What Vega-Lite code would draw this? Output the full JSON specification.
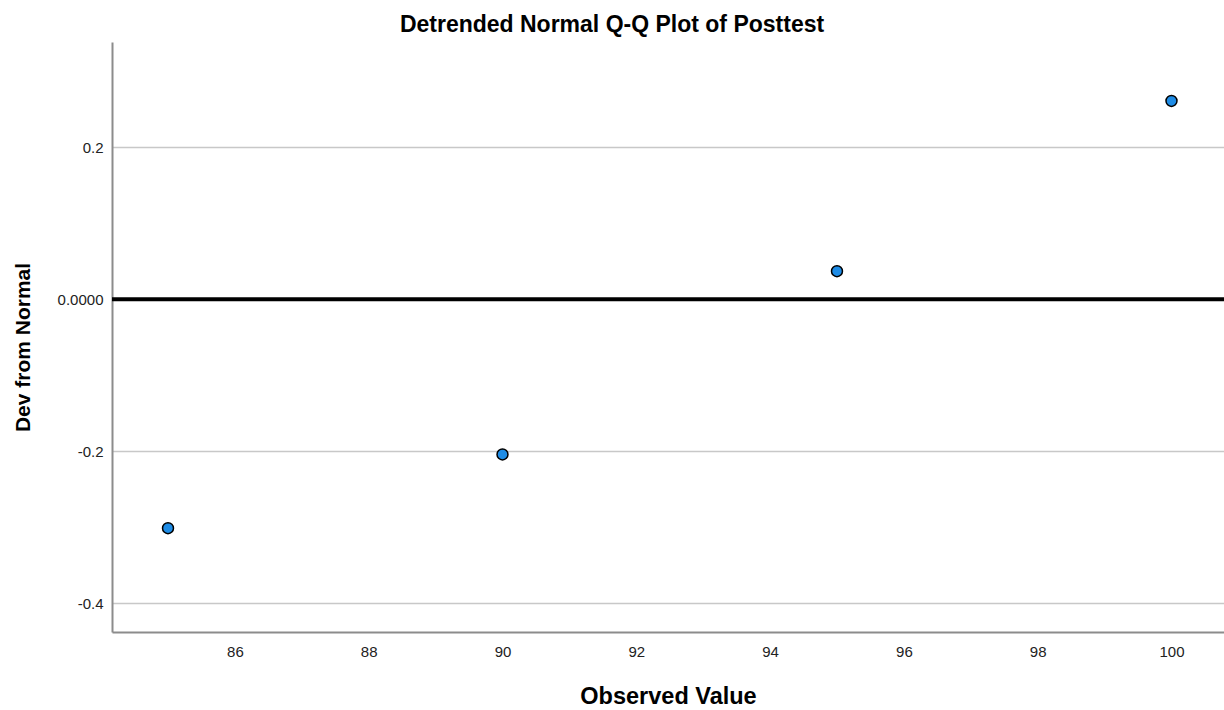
{
  "$schema": "https://vega.github.io/schema/vega-lite/v6.json",
  "width": 1112,
  "height": 590,
  "autosize": "none",
  "padding": {"left": 112, "top": 42, "right": 0, "bottom": 78},
  "background": "white",
  "config": {
    "view": {"stroke": null},
    "font": "Liberation Sans"
  },
  "title": {
    "text": "Detrended Normal Q-Q Plot of Posttest",
    "font": "Liberation Sans",
    "fontSize": 23,
    "fontWeight": "bold",
    "color": "#000000",
    "anchor": "middle",
    "frame": "group",
    "dx": -56,
    "offset": 5
  },
  "datasets": {
    "points": [
      {"observed": 85, "dev": -0.301},
      {"observed": 90, "dev": -0.204},
      {"observed": 95, "dev": 0.037},
      {"observed": 100, "dev": 0.261}
    ],
    "zero": [{"dev": 0}]
  },
  "layer": [
    {
      "data": {"name": "zero"},
      "mark": {"type": "rule", "color": "#000000", "strokeWidth": 4},
      "encoding": {
        "y": {"field": "dev", "type": "quantitative", "scale": {"domain": [-0.4376, 0.3385], "nice": false, "zero": false}}
      }
    },
    {
      "data": {"name": "points"},
      "mark": {"type": "point", "filled": true, "fill": "#1e8ce6", "stroke": "#000000", "strokeWidth": 1.5, "size": 120, "opacity": 1, "shape": "circle"},
      "encoding": {
        "x": {
          "field": "observed",
          "type": "quantitative",
          "scale": {"domain": [84.163, 100.785], "nice": false, "zero": false},
          "axis": {
            "title": "Observed Value",
            "values": [86, 88, 90, 92, 94, 96, 98, 100],
            "grid": false,
            "ticks": false,
            "domainColor": "#8c8c8c",
            "domainWidth": 2,
            "labelFont": "Liberation Sans",
            "labelFontSize": 15,
            "labelColor": "#222222",
            "labelPadding": 12,
            "titleFont": "Liberation Sans",
            "titleFontSize": 23.5,
            "titleFontWeight": "bold",
            "titleColor": "#000000",
            "titleBaseline": "alphabetic",
            "titleY": 71
          }
        },
        "y": {
          "field": "dev",
          "type": "quantitative",
          "scale": {"domain": [-0.4376, 0.3385], "nice": false, "zero": false},
          "axis": {
            "title": "Dev from Normal",
            "values": [-0.4, -0.2, 0, 0.2],
            "labelExpr": "datum.value == 0 ? '0.0000' : (datum.value < 0 ? '-' + format(-datum.value, '.1f') : format(datum.value, '.1f'))",
            "grid": true,
            "gridColor": "#c8c8c8",
            "gridWidth": 1.5,
            "ticks": false,
            "domainColor": "#8c8c8c",
            "domainWidth": 2,
            "labelFont": "Liberation Sans",
            "labelFontSize": 15,
            "labelColor": "#222222",
            "labelPadding": 9,
            "titleFont": "Liberation Sans",
            "titleFontSize": 21,
            "titleFontWeight": "bold",
            "titleColor": "#000000",
            "titleBaseline": "alphabetic",
            "titleX": -83,
            "titleY": 305,
            "titleAngle": -90
          }
        }
      }
    }
  ]
}
